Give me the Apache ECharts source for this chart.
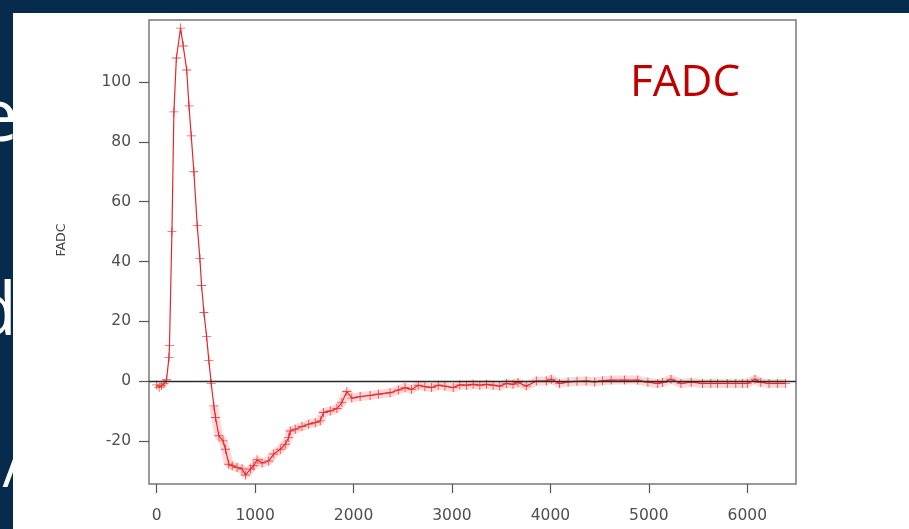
<!DOCTYPE html>
<html>
<head>
<meta charset="utf-8">
<script src="https://cdn.jsdelivr.net/npm/echarts@6/dist/echarts.min.js"></script>
<style>
  html, body { margin: 0; padding: 0; background: #062b4c; }
  #chart { width: 909px; height: 529px; }
</style>
</head>
<body>
<div id="chart"></div>
<script>
// Averaged FADC pulse: sample time and amplitude
const timeNs = [
  0, 25, 50, 75, 100, 125, 130, 155, 175, 200, 243, 270, 305, 328, 351, 378,
  412, 439, 456, 480, 507, 530, 554, 581, 598, 632, 675, 699, 733, 767, 817,
  868, 902, 952, 986, 1020, 1071, 1138, 1189, 1256, 1307, 1341, 1358, 1408,
  1476, 1544, 1611, 1662, 1695, 1763, 1831, 1881, 1932, 1982, 2067, 2168,
  2252, 2371, 2455, 2523, 2590, 2657, 2725, 2793, 2860, 2928, 3013, 3080,
  3148, 3215, 3283, 3350, 3418, 3485, 3553, 3620, 3671, 3755, 3857, 3958,
  4009, 4093, 4180, 4270, 4363, 4450, 4530, 4617, 4752, 4887, 4990, 5090,
  5140, 5225, 5326, 5430, 5545, 5630, 5697, 5798, 5883, 5950, 6001, 6079,
  6137, 6221, 6306, 6390
];
const fadc = [
  -1.2, -2.0, -1.5, -0.8, 0.5, 8, 12, 50, 90, 108, 118, 112, 104, 92, 82, 70,
  52, 41, 32, 23, 15, 7, -0.7, -8.2, -12.1, -18.2, -19.9, -22.7, -27.7, -28.2, -28.8,
  -29.3, -31.3, -29.3, -28.2, -26.2, -27.3, -26.6, -24.3, -22.7, -21, -18.8, -16.6, -16,
  -15.1, -14.3, -13.8, -13.2, -10.4, -9.9, -9.1, -7.1, -3.4, -5.6, -5.1, -4.7,
  -4.3, -3.8, -2.9, -2.1, -2.7, -1.3, -1.8, -2.1, -1.3, -1.6, -2.1, -1.2,
  -1.3, -1.0, -1.3, -1.0, -1.3, -1.6, -0.7, -1.0, -0.4, -1.6, 0.1, 0.1,
  0.7, -0.7, -0.2, 0, 0.1, -0.2, 0.2, 0.4, 0.4, 0.4, -0.3, -0.7,
  -0.4, 0.7, -0.7, -0.3, -0.7, -0.7, -0.7, -0.7, -0.7, -0.7, -0.7, 0.7,
  -0.4, -0.7, -0.7, -0.7
];
const xTicks = [0, 1000, 2000, 3000, 4000, 5000, 6000];
const yTicks = [-20, 0, 20, 40, 60, 80, 100];
const yTitle = 'FADC';
const plotTitle = 'FADC';
// large slide lettering partly hidden behind the white panel
const slideGlyphs = ['e', 'd', '/'];

const points = timeNs.map((t, i) => [t, fadc[i]]);
// uncertainty haze is drawn for the slow tail after the fast pulse
const tailPoints = points.filter(p => p[0] >= 560);

const plusPath = 'path://M0,4.5H10V5.5H0Z M4.5,0H5.5V10H4.5Z';
const tickFont = { fontFamily: 'DejaVu Sans', fontSize: 15.5, color: '#4f4f4f', formatter: v => String(v) };

const chart = echarts.init(document.getElementById('chart'), null, { renderer: 'canvas' });
chart.setOption({
  animation: false,
  backgroundColor: '#062b4c',
  graphic: [
    { type: 'text', z: -20, x: 18, y: 120,
      style: { text: slideGlyphs[0], fill: '#ffffff', font: '74px "Open Sans"', align: 'right', verticalAlign: 'middle' } },
    { type: 'text', z: -20, x: 17, y: 314,
      style: { text: slideGlyphs[1], fill: '#ffffff', font: '74px "Open Sans"', align: 'right', verticalAlign: 'middle' } },
    { type: 'text', z: -20, x: 24, y: 470,
      style: { text: slideGlyphs[2], fill: '#ffffff', font: '60px "Open Sans"', align: 'right', verticalAlign: 'middle' } },
    { type: 'rect', z: -10, shape: { x: 13, y: 13, width: 909, height: 529 },
      style: { fill: '#ffffff' } },
    { type: 'text', z: 10, x: 62, y: 240, rotation: Math.PI / 2,
      style: { text: yTitle, fill: '#444', font: '12.5px "DejaVu Sans"', align: 'center', verticalAlign: 'middle' } },
    { type: 'text', z: 10, x: 630, y: 83,
      style: { text: plotTitle, fill: '#c00000', font: '44px "Open Sans"', align: 'left', verticalAlign: 'middle' } }
  ],
  grid: {
    left: 149, right: 113, top: 20, bottom: 45,
    show: true, borderColor: '#7a7a7a', borderWidth: 1.5, backgroundColor: 'transparent'
  },
  xAxis: {
    type: 'value', min: -78, max: 6495,
    axisLine: { show: false, onZero: false },
    splitLine: { show: false },
    axisTick: { show: true, inside: false, length: 9, customValues: xTicks, lineStyle: { color: '#555', width: 1.2 } },
    axisLabel: Object.assign({ margin: 24, customValues: xTicks }, tickFont)
  },
  yAxis: {
    type: 'value', min: -34.3, max: 120.7,
    axisLine: { show: false, onZero: false },
    splitLine: { show: false },
    axisTick: { show: true, inside: false, length: 10, customValues: yTicks, lineStyle: { color: '#555', width: 1.2 } },
    axisLabel: Object.assign({ margin: 18, customValues: yTicks }, tickFont)
  },
  series: [
    {
      type: 'line', z: 1, data: tailPoints, symbol: 'none', silent: true,
      lineStyle: { color: 'rgba(255,80,80,0.22)', width: 9 },
      markLine: {
        silent: true, symbol: 'none', label: { show: false },
        lineStyle: { color: '#2a2a2a', width: 1.3, type: 'solid' },
        data: [{ yAxis: 0 }]
      }
    },
    {
      type: 'line', z: 3, data: points,
      symbol: plusPath, symbolSize: 9, showAllSymbol: true,
      itemStyle: { color: 'rgba(235,40,40,0.8)' },
      lineStyle: { color: '#e5262b', width: 1.2 }
    }
  ]
});
</script>
</body>
</html>
